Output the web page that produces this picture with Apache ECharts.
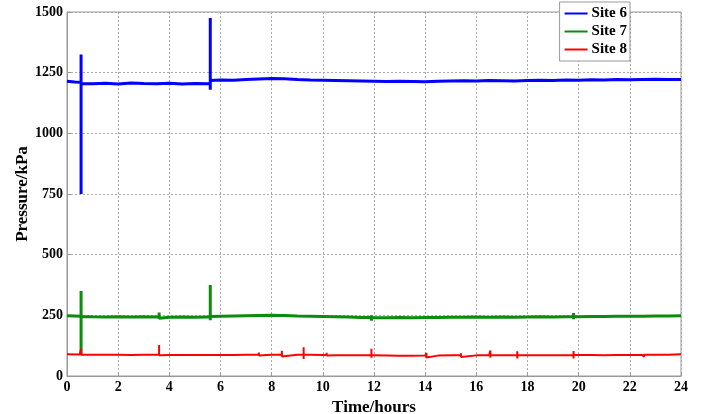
<!DOCTYPE html>
<html>
<head>
<meta charset="utf-8">
<title>Pressure</title>
<script src="https://cdn.jsdelivr.net/npm/echarts@6/dist/echarts.min.js"></script>
</head>
<body style="margin:0">
<div id="main" style="width:701px;height:414px;"></div>
<script>
// time in hours (spikes: same time repeated)
var site6Time = [0,0.3,0.55,0.55,0.55,0.55,1,1.5,2,2.5,3,3.5,4,4.5,5,5.5,5.6,5.6,5.6,5.6,6,6.5,7,7.5,8,8.5,9,9.5,10,10.5,11,11.5,12,12.5,13,13.5,14,14.5,15,15.5,16,16.5,17,17.5,18,18.5,19,19.5,20,20.5,21,21.5,22,22.5,23,23.5,24];
var site6Pressure = [1215,1212,1210,1325,750,1205,1204,1206,1203,1207,1205,1204,1206,1203,1205,1204,1205,1180,1475,1218,1220,1219,1222,1224,1226,1225,1222,1220,1219,1218,1217,1216,1215,1214,1215,1214,1213,1215,1216,1217,1216,1218,1217,1216,1218,1219,1218,1220,1219,1221,1220,1222,1221,1222,1223,1222,1222];

var site7Time = [0,0.3,0.55,0.55,0.55,0.55,1,1.5,2,2.5,3,3.5,3.6,3.6,3.6,3.6,4,4.5,5,5.5,5.6,5.6,5.6,5.6,6,6.5,7,7.5,8,8.5,9,9.5,10,10.5,11,11.5,11.9,11.9,11.9,11.9,12,12.5,13,13.5,14,14.5,15,15.5,16,16.5,17,17.5,18,18.5,19,19.5,19.8,19.8,19.8,19.8,20,20.5,21,21.5,22,22.5,23,23.5,24];
var site7Pressure = [248,247,246,350,88,245,244,243,244,243,244,243,243,262,238,243,242,243,242,243,243,230,375,245,246,247,248,249,250,249,247,246,245,244,243,241,241,250,228,241,240,240,241,240,241,241,242,242,243,242,243,242,243,244,243,244,244,260,234,244,244,245,245,246,246,246,247,247,248];

var site8Time = [0,0.5,0.55,0.55,0.55,0.55,1,1.4,1.4,1.4,1.4,2,2.5,3,3.5,3.6,3.6,3.6,3.6,4,4.5,5,5.5,5.8,5.8,5.8,5.8,6,6.5,7,7.5,7.5,7.5,7.5,8,8.4,8.4,8.4,8.4,9,9.25,9.25,9.25,9.25,9.5,10,10.15,10.15,10.15,10.15,10.5,11,11.5,11.9,11.9,11.9,11.9,12,12.5,13,13.5,14,14.05,14.05,14.05,14.05,14.5,15,15.4,15.4,15.4,15.4,16,16.5,16.55,16.55,16.55,16.55,17,17.5,17.6,17.6,17.6,17.6,18,18.5,19,19.5,19.8,19.8,19.8,19.8,20,20.5,21,21.5,22,22.5,22.55,22.55,22.55,22.55,23,23.5,24];
var site8Pressure = [90,89,89,112,88,88,88,88,96,80,88,88,87,88,88,88,128,86,87,87,87,87,87,87,95,80,87,87,87,88,88,97,84,88,88,88,104,80,88,88,88,118,70,88,88,87,87,96,84,86,86,85,85,85,112,75,85,85,84,83,83,84,84,95,76,84,84,85,85,94,78,85,85,86,86,105,75,86,86,86,86,102,72,86,86,86,86,86,86,103,72,87,87,87,86,87,87,87,87,95,78,88,88,88,90];

var hourTicks = [0,2,4,6,8,10,12,14,16,18,20,22,24];
var pressureTicks = [0,250,500,750,1000,1250,1500];

function pairs(t, v) {
  return t.map(function (x, i) { return [x, v[i]]; });
}

var font = 'Liberation Serif';
var myChart = echarts.init(document.getElementById('main'));

var option = {
  animation: false,
  backgroundColor: '#fff',
  grid: {
    left: 67, right: 20, top: 12, bottom: 38,
    outerBoundsMode: 'none',
    show: true, borderColor: '#999', borderWidth: 1
  },
  legend: {
    orient: 'vertical',
    right: 71, top: 2,
    backgroundColor: '#fff',
    borderColor: '#999', borderWidth: 1,
    padding: [4, 3, 4, 5],
    itemGap: 3,
    itemWidth: 23, itemHeight: 2,
    icon: 'rect',
    textStyle: { fontFamily: font, fontWeight: 'bold', fontSize: 15, color: '#000', padding: [0, 0, 0, -1] },
    data: ['Site 6', 'Site 7', 'Site 8']
  },
  xAxis: {
    type: 'value',
    min: hourTicks[0], max: hourTicks[hourTicks.length - 1], interval: 2,
    name: 'Time/hours', nameLocation: 'middle', nameGap: 22,
    nameTextStyle: { fontFamily: font, fontWeight: 'bold', fontSize: 17, color: '#000' },
    axisLine: { lineStyle: { color: '#999' } },
    axisTick: { inside: true, length: 4, lineStyle: { color: '#999' } },
    axisLabel: { fontFamily: font, fontWeight: 'bold', fontSize: 14, color: '#000', margin: 4 },
    splitLine: { lineStyle: { color: '#aaa', type: [2, 2] } }
  },
  yAxis: {
    type: 'value',
    min: pressureTicks[0], max: pressureTicks[pressureTicks.length - 1], interval: 250,
    name: 'Pressure/kPa', nameLocation: 'middle', nameGap: 36, nameMoveOverlap: false,
    nameTextStyle: { fontFamily: font, fontWeight: 'bold', fontSize: 17, color: '#000' },
    axisLine: { show: true, lineStyle: { color: '#999' } },
    axisTick: { show: true, inside: true, length: 4, lineStyle: { color: '#999' } },
    axisLabel: {
      fontFamily: font, fontWeight: 'bold', fontSize: 14, color: '#000', margin: 4,
      formatter: function (v) { return String(v); }
    },
    splitLine: { lineStyle: { color: '#aaa', type: [2, 2] } }
  },
  series: [
    { name: 'Site 6', type: 'line', showSymbol: false, color: '#0000ff',
      lineStyle: { width: 3 }, data: pairs(site6Time, site6Pressure) },
    { name: 'Site 7', type: 'line', showSymbol: false, color: '#0c8c0c',
      lineStyle: { width: 3 }, data: pairs(site7Time, site7Pressure) },
    { name: 'Site 8', type: 'line', showSymbol: false, color: '#ff0000',
      lineStyle: { width: 2 }, data: pairs(site8Time, site8Pressure) }
  ]
};
myChart.setOption(option);
</script>
</body>
</html>
